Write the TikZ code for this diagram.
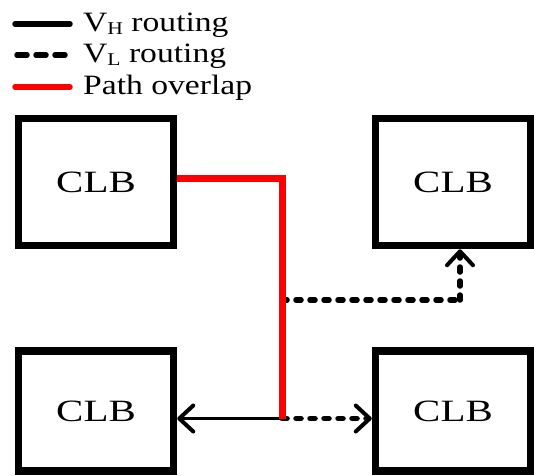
\documentclass[tikz,border=0pt]{standalone}
\usepackage{fontspec}
\setmainfont{Liberation Serif}
\usetikzlibrary{arrows.meta}
\begin{document}
\begin{tikzpicture}[x=1pt,y=-1pt,
  clb/.style={draw,line width=7.5pt,minimum width=155pt,minimum height=127pt,inner sep=0pt,
    font=\fontsize{31}{31}\selectfont},
  solidline/.style={line width=3.5pt},
  dashline/.style={line width=5.5pt,line cap=round,dash pattern=on 5pt off 9pt},
  redline/.style={line width=7pt,red},
  tip/.style={-{Straight Barb[length=14pt,width=26pt,line width=4pt,round]}},
  legtext/.style={anchor=west,inner sep=0pt,font=\fontsize{28}{28}\selectfont}
  ]
\useasboundingbox (0,0) rectangle (534,475);
% boxes
\node[clb] (tl) at (96,182) {\scalebox{1.32}[1]{CLB}};
\node[clb] (tr) at (453,182) {\scalebox{1.32}[1]{CLB}};
\node[clb,minimum height=120pt] (bl) at (96,411) {\scalebox{1.32}[1]{CLB}};
\node[clb,minimum height=120pt] (br) at (453,411) {\scalebox{1.32}[1]{CLB}};
% junctions
\coordinate (rc) at (282,178);
\coordinate (jb) at (282,418.5);
\coordinate (jm) at (282,300);
\coordinate (dc) at (460,300);
% connectors
\draw[solidline,tip] (jb) -- (bl.east |- jb);
\draw[dashline,tip] (jb) -- (br.west |- jb);
\draw[dashline] (jm) -- (dc);
\draw[dashline,tip] (dc) -- (dc |- tr.south);
\draw[redline] (tl.east |- rc) -- (rc) -- (jb);
% legend
\coordinate (l1a) at (15,24); \coordinate (l1b) at (70,24);
\coordinate (l2a) at (17,55); \coordinate (l2b) at (68,55);
\coordinate (l3a) at (15,87); \coordinate (l3b) at (70,87);
\draw[line width=5.5pt,line cap=round] (l1a) -- (l1b);
\draw[line width=5.5pt,line cap=round,dash pattern=on 10pt off 9pt] (l2a) -- (l2b);
\draw[line width=5.5pt,line cap=round,red] (l3a) -- (l3b);
\node[legtext] (t1) at (83,25) {\scalebox{1.2}[1]{V\raisebox{-0.25ex}{\fontsize{18}{18}\selectfont H} routing}};
\node[legtext] (t2) at (83,56) {\scalebox{1.2}[1]{V\raisebox{-0.25ex}{\fontsize{18}{18}\selectfont L} routing}};
\node[legtext] (t3) at (83,88) {\scalebox{1.2}[1]{Path overlap}};
\end{tikzpicture}
\end{document}
